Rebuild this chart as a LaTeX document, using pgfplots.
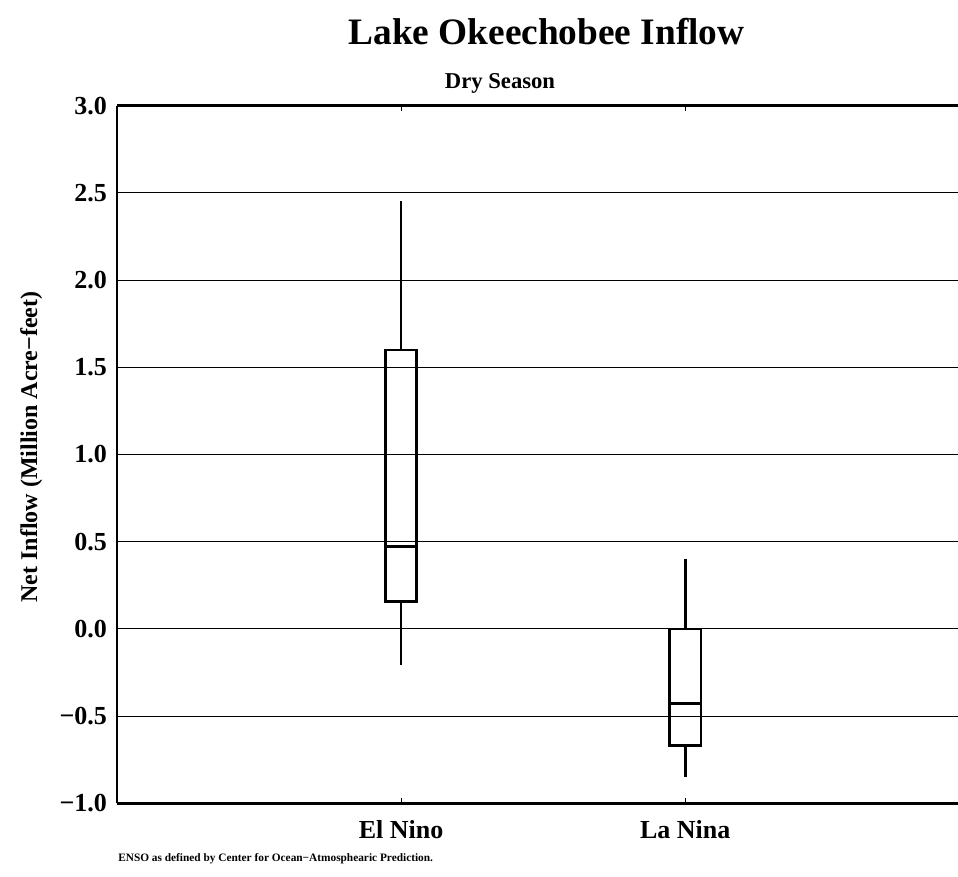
\documentclass[border=0pt]{standalone}
\usepackage{fontspec}
\setmainfont{Liberation Serif}
\usepackage{pgfplots}
\pgfplotsset{compat=1.18}
\usepgfplotslibrary{statistics}
\begin{document}
\begin{tikzpicture}
\path[use as bounding box] (0,0) rectangle (718.5pt,-657pt);
\begin{axis}[
  at={(87.75pt,-602.475pt)}, anchor=south west,
  scale only axis, width=630.75pt, height=523.2pt,
  xmin=0, xmax=2.96, ymin=-1, ymax=3,
  axis x line*=box, axis y line*=left,
  axis line style={line width=2.2pt, black},
  xtick={1,2}, xticklabels={El Nino, La Nina},
  ytick={-1,-0.5,0,0.5,1,1.5,2,2.5,3},
  yticklabels={−1.0,−0.5,0.0,0.5,1.0,1.5,2.0,2.5,3.0},
  ymajorgrids, grid style={black, line width=0.8pt, solid},
  tick label style={font=\fontsize{19.5}{21}\selectfont\bfseries},
  ytick style={draw=none},
  xtick style={line width=0.6pt, black},
  major tick length=4pt, tick align=inside,
  yticklabel style={xshift=-4pt},
  xticklabel style={yshift=-9pt},
  boxplot/draw direction=y,
  boxplot/every whisker/.style={line width=2pt, black},
  boxplot/every median/.style={line width=2pt, black},
  boxplot/every box/.style={line width=2pt, black},
  clip=false,
]
\addplot[draw=black, line width=2pt, solid, mark=none,
  boxplot/draw direction=y,
  boxplot prepared={draw position=1, lower whisker=-0.207, lower quartile=0.156,
    median=0.471, upper quartile=1.60, upper whisker=2.455,
    box extend=0.11, whisker extend=0}] coordinates {};
\addplot[draw=black, line width=2pt, solid, mark=none,
  boxplot/draw direction=y,
  boxplot prepared={draw position=2, lower whisker=-0.847, lower quartile=-0.670,
    median=-0.427, upper quartile=0.0, upper whisker=0.40,
    box extend=0.11, whisker extend=0}] coordinates {};
\end{axis}
\begin{scope}[x=0.75pt,y=-0.75pt]
\node[font=\fontsize{28}{30}\selectfont\bfseries, anchor=base] at (546.5,44) {Lake Okeechobee Inflow};
\node[font=\fontsize{17}{19}\selectfont\bfseries, anchor=base] at (500,88) {Dry Season};
\node[font=\fontsize{18}{20}\selectfont\bfseries, anchor=base, rotate=90] at (37,447) {Net Inflow (Million Acre−feet)};
\node[font=\fontsize{8.5}{10}\selectfont\bfseries, anchor=base west, inner sep=0pt] at (118,861) {ENSO as defined by Center for Ocean−Atmosphearic Prediction.};
\end{scope}
\end{tikzpicture}
\end{document}
